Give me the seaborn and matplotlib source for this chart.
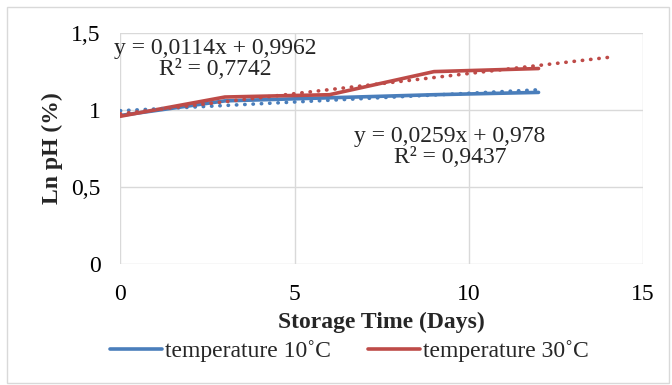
import numpy as np
import pandas as pd
import matplotlib.pyplot as plt
import seaborn as sns
from matplotlib.patches import Rectangle

days     = [0, 3, 6, 9, 12]
ph_10c   = [0.965, 1.06, 1.08, 1.10, 1.115]
ph_30c   = [0.96, 1.085, 1.10, 1.25, 1.27]
labels   = ["temperature 10˚C", "temperature 30˚C"]
eq_10c   = "y = 0,0114x + 0,9962\nR² = 0,7742"
eq_30c   = "y = 0,0259x + 0,978\nR² = 0,9437"
x_ticks  = [0, 5, 10, 15]
y_ticks  = [0, 0.5, 1, 1.5]
y_labels = ["0", "0,5", "1", "1,5"]

BLUE = "#4a7ebb"
RED  = "#be4b48"
GRID = "#d9d9d9"
FS   = 17

sns.set_theme(style="white")
plt.rcParams["font.family"] = ["Liberation Serif", "DejaVu Serif"]

df = pd.DataFrame({
    "day":   days * 2,
    "ph":    ph_10c + ph_30c,
    "group": [labels[0]] * len(days) + [labels[1]] * len(days),
})

fig = plt.figure(figsize=(6.72, 3.85), dpi=100)
ax = fig.add_axes([0.179, 0.314, 0.778, 0.600])

sns.lineplot(data=df, x="day", y="ph", hue="group", palette=[BLUE, RED],
             linewidth=2.6, ax=ax, legend=True)
handles, _ = ax.get_legend_handles_labels()
ax.get_legend().remove()

# linear trendlines (red one forecast 2 days forward)
for vals, color, x_end in [(ph_10c, BLUE, 12), (ph_30c, RED, 14)]:
    k, b = np.polyfit(days, vals, 1)
    xs = np.array([0, x_end])
    ax.plot(xs, k * xs + b, color=color, linestyle=(0, (0.1, 2.2)),
            linewidth=2.6, dash_capstyle="round")

ax.set_xlim(0, 15)
ax.set_ylim(0, 1.5)
ax.set_xticks(x_ticks)
ax.set_yticks(y_ticks)
ax.set_yticklabels(y_labels)
ax.grid(True, color=GRID, linewidth=1)
for s in ax.spines.values():
    s.set_visible(False)
ax.tick_params(axis="both", labelsize=FS, length=0, colors="black")
ax.tick_params(axis="x", pad=14)
ax.tick_params(axis="y", pad=14)

ax.set_xlabel("Storage Time (Days)", fontsize=FS, fontweight="bold", labelpad=5)
ax.set_ylabel("Ln pH (%)", fontsize=FS, fontweight="bold", labelpad=6)

ax.text(2.72, 1.33, eq_10c, ha="center", va="center", fontsize=FS,
        linespacing=1.0)
ax.text(9.46, 0.76, eq_30c, ha="center", va="center", fontsize=FS,
        linespacing=1.0)

fig.legend(handles[:2], labels, loc="center", bbox_to_anchor=(0.52, 0.087),
           ncol=2, frameon=False, fontsize=FS, handlelength=2.2,
           handletextpad=0.1, columnspacing=1.6)

fig.patches.append(Rectangle((0.011, 0.005), 0.985, 0.976, transform=fig.transFigure,
                             fill=False, edgecolor=GRID, linewidth=1))

fig.savefig("out.png", dpi=100)
